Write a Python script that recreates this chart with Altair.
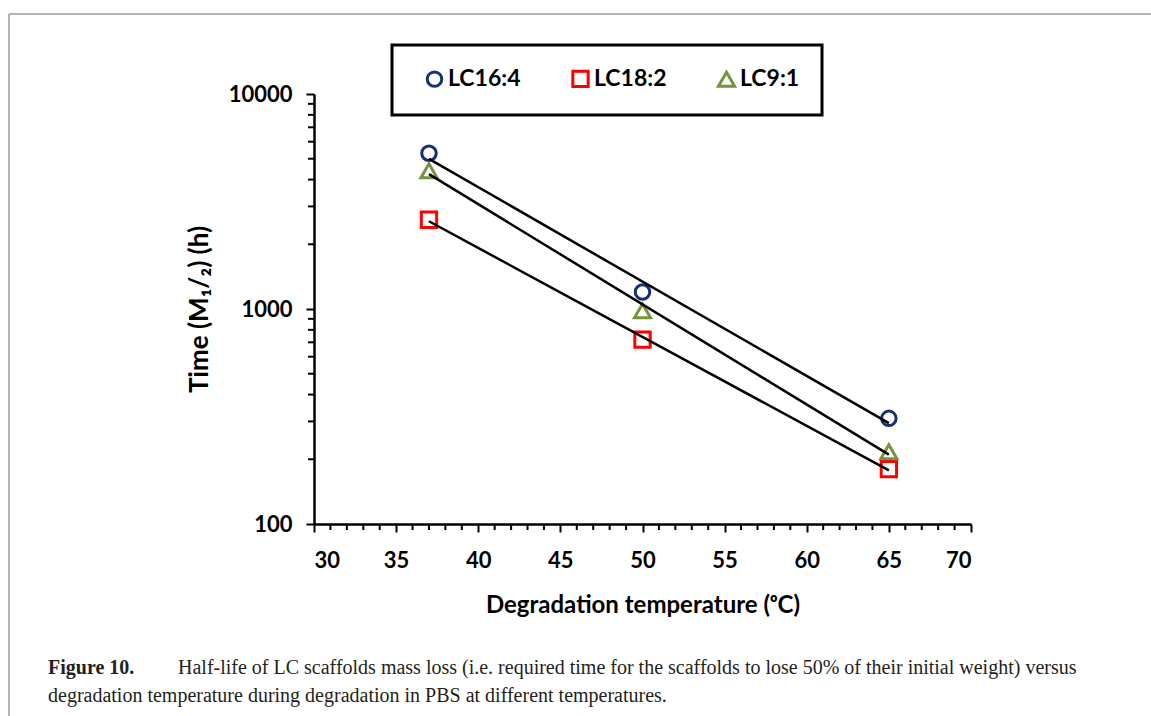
import altair as alt
import pandas as pd

series = ["LC16:4", "LC18:2", "LC9:1"]
temps = [37, 50, 65]
lc16 = [5300, 1200, 310]
lc18 = [2600, 720, 180]
lc9 = [4400, 980, 217]
colors = ["#16307a", "#ff0000", "#77933c"]
shapes = ["circle", "square", "triangle-up"]
marker_sizes = [210, 260, 250]

x_ticks = [30, 35, 40, 45, 50, 55, 60, 65, 70]
x_minor = [v for v in range(31, 70) if v % 5 != 0]
y_ticks = [100, 1000, 10000]
y_minor = [200, 300, 400, 500, 600, 700, 800, 900,
           2000, 3000, 4000, 5000, 6000, 7000, 8000, 9000]

rows = []
for name, vals in zip(series, [lc16, lc18, lc9]):
    for t, v in zip(temps, vals):
        rows.append({"Series": name, "Temp": t, "Time": v})
df = pd.DataFrame(rows)

W, H = 657, 430
FONT = "Lato"

xs = alt.Scale(domain=[30, 70], nice=False, zero=False)
ys = alt.Scale(type="log", domain=[100, 10000], nice=False)

points = alt.Chart(df).mark_point(filled=False, strokeWidth=3, opacity=1).encode(
    x=alt.X("Temp:Q", scale=xs,
            axis=alt.Axis(values=x_ticks, title="Degradation temperature (ᵒC)",
                          labelPadding=18, titlePadding=22, titleFontSize=24)),
    y=alt.Y("Time:Q", scale=ys,
            axis=alt.Axis(values=y_ticks, format="d", title="Time (M₁/₂) (h)",
                          labelPadding=14, titlePadding=16, titleFontSize=26)),
    color=alt.Color("Series:N", scale=alt.Scale(domain=series, range=colors),
                    legend=alt.Legend(title=None, orient="none", direction="horizontal",
                                      legendX=78, legendY=-49, padding=22,
                                      strokeColor="black",
                                      labelFont=FONT, labelFontWeight="bold",
                                      labelFontSize=23, labelColor="black",
                                      symbolStrokeWidth=3, symbolSize=210,
                                      symbolFillColor="white", symbolOffset=9,
                                      labelOffset=2, columnPadding=39)),
    shape=alt.Shape("Series:N", scale=alt.Scale(domain=series, range=shapes)),
    size=alt.Size("Series:N", scale=alt.Scale(domain=series, range=marker_sizes), legend=None),
)

lines = alt.Chart(df).transform_calculate(
    logT="log(datum.Time)"
).transform_regression(
    "Temp", "logT", groupby=["Series"], method="linear"
).transform_calculate(
    Fit="exp(datum.logT)"
).mark_line(color="black", strokeWidth=2.5).encode(
    x=alt.X("Temp:Q", scale=xs),
    y=alt.Y("Fit:Q", scale=ys),
    detail="Series:N",
)

xminor = alt.Chart(pd.DataFrame({"v": x_minor})).mark_rule(color="black", strokeWidth=2).encode(
    x=alt.X("v:Q", scale=xs), y=alt.value(H), y2=alt.value(H + 6))
yminor = alt.Chart(pd.DataFrame({"v": y_minor})).mark_rule(color="black", strokeWidth=2).encode(
    y=alt.Y("v:Q", scale=ys), x=alt.value(0), x2=alt.value(-6))

one = alt.Data(values=[{"k": 1}])
frame_left = alt.Chart(one).mark_rule(color="#b4b4b4", strokeWidth=2).encode(
    x=alt.value(-305), y=alt.value(-80), y2=alt.value(640))
frame_top = alt.Chart(one).mark_rule(color="#b4b4b4", strokeWidth=2).encode(
    y=alt.value(-80), x=alt.value(-305), x2=alt.value(860))

cap_font = "Liberation Serif"
cap1a = alt.Chart(one).mark_text(align="left", baseline="middle", font=cap_font,
                                 fontSize=20, fontWeight="bold", color="#231f20").encode(
    x=alt.value(-266), y=alt.value(574), text=alt.value("Figure 10."))
cap1b = alt.Chart(one).mark_text(align="left", baseline="middle", font=cap_font,
                                 fontSize=20, color="#231f20").encode(
    x=alt.value(-136), y=alt.value(574),
    text=alt.value("Half-life of LC scaffolds mass loss (i.e. required time for the scaffolds to lose 50% of their initial weight) versus"))
cap2 = alt.Chart(one).mark_text(align="left", baseline="middle", font=cap_font,
                                fontSize=20, color="#231f20").encode(
    x=alt.value(-266), y=alt.value(602),
    text=alt.value("degradation temperature during degradation in PBS at different temperatures."))

chart = alt.layer(
    frame_left, frame_top, xminor, yminor, points, lines, cap1a, cap1b, cap2
).properties(
    width=W, height=H,
    padding={"left": 314, "top": 94, "right": 180, "bottom": 192},
    autosize=alt.AutoSizeParams(type="none"),
    background="white",
).configure_view(stroke=None).configure_axis(
    grid=False,
    labelFont=FONT, labelFontWeight="bold", labelFontSize=22, labelColor="black",
    titleFont=FONT, titleFontWeight="bold", titleColor="black",
    domainColor="black", domainWidth=2.5, tickColor="black", tickWidth=2, tickSize=8,
).configure_legend(strokeWidth=3)

chart.save("out.html", embed_options={"renderer": "svg", "actions": False})
